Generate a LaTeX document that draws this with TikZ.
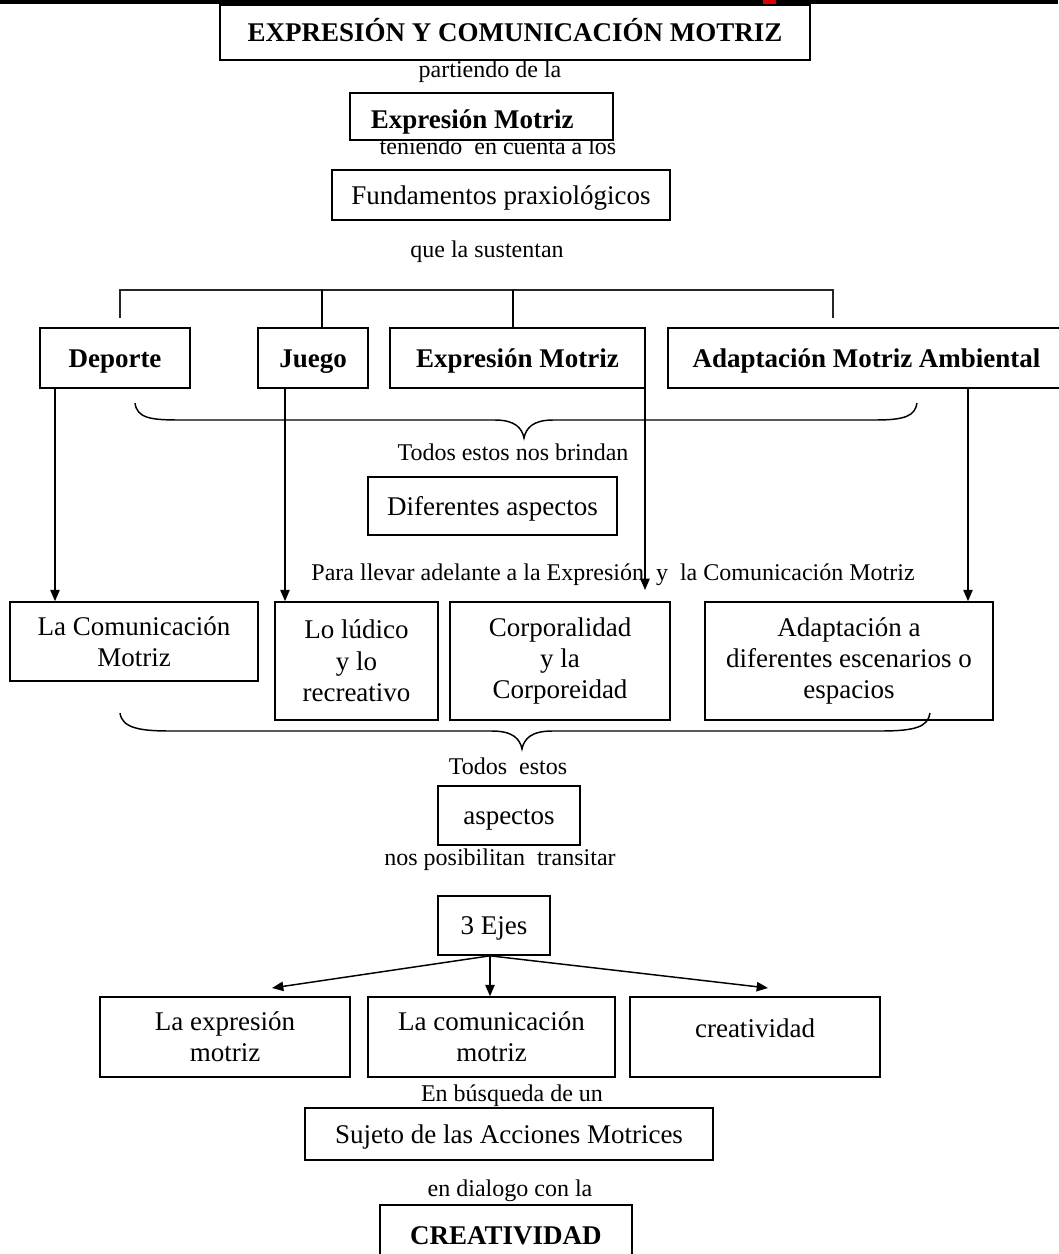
\documentclass[tikz,border=0pt]{standalone}
\usepackage{fontspec}
\setmainfont{Liberation Serif}
\usetikzlibrary{arrows.meta}
\newcommand\boxfnt{\fontsize{20.25}{23.5}\selectfont}
\newcommand\lblfnt{\fontsize{18}{21}\selectfont}
\newcommand\bldfnt{\fontsize{20.25}{23.5}\selectfont\bfseries}
\begin{document}
\begin{tikzpicture}[x=0.75pt,y=-0.75pt,
  box/.style={draw, line width=1.2pt, fill=white, inner sep=0pt, align=center, font=\boxfnt},
  bbox/.style={box, font=\bldfnt},
  one/.style={text height=14pt, text depth=0.5pt},
  sz/.style 2 args={minimum width=#1*0.75pt, minimum height=#2*0.75pt},
  lbl/.style={inner sep=0pt, font=\lblfnt},
  conn/.style={line width=1.1pt},
  arr/.style={conn, -{Triangle[length=8.5pt,width=7pt]}}
]
\useasboundingbox (0,0) rectangle (1058,1254);
\fill[white] (0,0) rectangle (1058,1254);
\fill[black] (0,0) rectangle (1058,4);
\fill[red!85!black] (763,0) rectangle (776,6);

% top part
\node[bbox, one, sz={590}{55}] (title) at (515,32.5) {EXPRESIÓN Y COMUNICACIÓN MOTRIZ};
\node[lbl] (l1) at (490,72) {partiendo de la};
\node[lbl] (l2) at (498,146) {teniendo\ \ en cuenta a los};
\node[box, sz={263}{47}, label={[font=\bldfnt, one, inner sep=0pt, xshift=-7pt, yshift=-2.6pt]center:Expresión Motriz}] (em2) at (481.5,116.5) {};
\node[box, one, sz={338}{50}] (fund) at (501,195) {Fundamentos praxiológicos};
\node[lbl] (l3) at (487,252) {que la sustentan};

% row 1
\node[bbox, one, sz={150}{60}] (dep) at (115,358) {Deporte};
\node[bbox, one, sz={110}{60}] (jue) at (313,358) {Juego};
\node[bbox, one, sz={255}{60}] (exm) at (517.5,358) {Expresión Motriz};
\node[bbox, one, sz={397}{60}] (amb) at (866.5,358) {Adaptación Motriz Ambiental};

% bracket
\coordinate (hb) at (0,290);
\coordinate (b1) at (120,318);
\coordinate (b4) at (833,318);
\coordinate (v2) at (322,0);
\coordinate (v3) at (513,0);
\draw[line width=1.8pt, draw=black!85] (b1) -- (b1 |- hb) -- (b4 |- hb) -- (b4);
\draw[conn] (hb -| v2) -- (jue.north -| v2);
\draw[conn] (hb -| v3) -- (exm.north -| v3);

% brace 1
\draw[conn] (135,403) .. controls (137,418) and (150,420) .. (180,420) -- (495,420)
  .. controls (515,420) and (522,428) .. (524,438)
  .. controls (526,428) and (533,420) .. (553,420) -- (875,420)
  .. controls (905,420) and (915,416) .. (917,403);

\node[lbl] (l4) at (513,452) {Todos estos nos brindan};
\node[box, one, sz={249}{58}] (dif) at (492.5,506) {Diferentes aspectos};
\node[lbl] (l5) at (613,575) {Para llevar adelante a la Expresión\ \ y\ \ la Comunicación Motriz};

% row 2
\node[box, sz={248}{79}] (lcm) at (134,641.5) {La Comunicación\\Motriz};
\node[box, sz={163}{118}] (lud) at (356.5,661) {Lo lúdico\\y lo\\recreativo};
\node[box, sz={220}{118}] (cor) at (560,661) {Corporalidad\\y la\\Corporeidad};
\node[box, sz={288}{118}] (ada) at (849,661) {Adaptación a\\diferentes escenarios o\\espacios};

% down arrows
\coordinate (a1) at (55,0);
\coordinate (a2) at (285,0);
\coordinate (a3) at (645,0);
\coordinate (a3e) at (645,590);
\coordinate (a4) at (968,0);
\draw[arr] (dep.south -| a1) -- (lcm.north -| a1);
\draw[arr] (jue.south -| a2) -- (lud.north -| a2);
\draw[arr] (exm.south -| a3) -- (a3e);
\draw[arr] (amb.south -| a4) -- (ada.north -| a4);

% brace 2
\draw[conn] (120,713) .. controls (122,728) and (140,731) .. (170,731) -- (492,731)
  .. controls (513,731) and (520,739) .. (522,749)
  .. controls (524,739) and (531,731) .. (552,731) -- (880,731)
  .. controls (915,731) and (928,727) .. (930,713);

\node[lbl] (l6) at (508,766) {Todos\ \ estos};
\node[box, one, sz={142}{59}] (asp) at (509,815.5) {aspectos};
\node[lbl] (l7) at (500,860) {nos posibilitan\ \ transitar};
\node[box, one, sz={112}{59}] (eje) at (494,925.5) {3 Ejes};

% row 3
\node[box, sz={250}{80}] (lem) at (225,1037) {La expresión\\motriz};
\node[box, sz={247}{80}] (lcm2) at (491.5,1037) {La comunicación\\motriz};
\node[box, sz={250}{80}, label={[font=\boxfnt, one, inner sep=0pt, yshift=6.5pt]center:creatividad}] (cre) at (755,1037) {};

\coordinate (e0) at (490,0);
\coordinate (t1) at (272,988);
\coordinate (t3) at (768,988);
\draw[arr] (eje.south -| e0) -- (t1);
\draw[arr] (eje.south -| e0) -- (lcm2.north -| e0);
\draw[arr] (eje.south -| e0) -- (t3);

\node[lbl] (l8) at (512,1096) {En búsqueda de un};
\node[box, one, sz={408}{52}] (suj) at (509,1134) {Sujeto de las Acciones Motrices};
\node[lbl] (l9) at (510,1191) {en dialogo con la};
\node[bbox, one, sz={252}{60}] (crea) at (506,1235) {CREATIVIDAD};
\end{tikzpicture}
\end{document}
